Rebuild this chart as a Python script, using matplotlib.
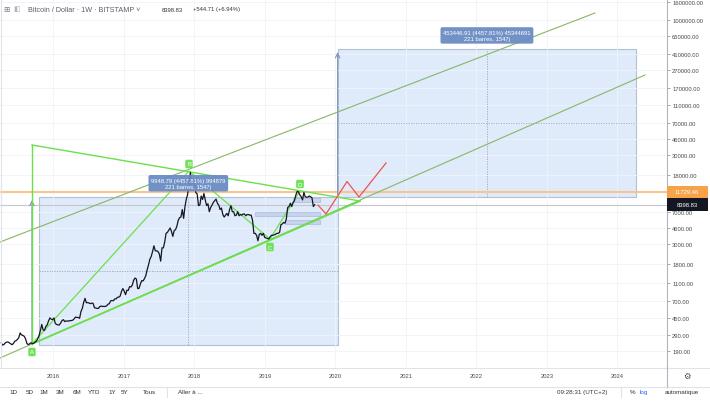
import numpy as np
import matplotlib.pyplot as plt
from matplotlib.patches import Rectangle
from matplotlib.lines import Line2D
from matplotlib.ticker import FuncFormatter, NullLocator

plt.rcParams['font.family'] = ['Liberation Sans', 'DejaVu Sans']

# weekly closes BTC/USD (Bitstamp), from april 2015
closes = [
    236, 223, 226, 236, 240, 242, 236, 230, 225, 232, 246, 250, 258,
    270, 305, 290, 286, 280, 262, 232, 226, 230, 237, 231, 234, 240,
    247, 262, 285, 325, 380, 330, 325, 360, 375, 415, 450, 435, 430,
    # 2016
    450, 390, 380, 375, 375, 395, 420, 430, 410, 415, 415, 415, 420,
    420, 425, 440, 460, 455, 455, 445, 530, 575, 670, 745, 665, 670,
    660, 650, 660, 655, 585, 580, 575, 575, 605, 610, 605, 605, 605,
    615, 640, 650, 700, 705, 700, 735, 735, 765, 770, 790, 890, 960,
    # 2017
    900, 820, 920, 915, 1010, 1000, 1050, 1190, 1260, 1230, 960, 965, 1080,
    1180, 1170, 1240, 1340, 1560, 1770, 2050, 2200, 2500, 2900, 2550, 2550,
    2500, 2350, 1950, 2750, 2750, 3200, 4000, 4100, 4350, 4600, 4200, 3700, 4300,
    4400, 4800, 5600, 6000, 6100, 7400, 5900, 8000, 9700, 11000, 15000, 19300, 14000,
    # 2018
    16500, 14000, 11500, 11100, 8200, 8300, 10500, 9600, 11200, 9500, 8200, 8600,
    7000, 7800, 8300, 8900, 9300, 9700, 8700, 8300, 7400, 7700, 6500, 6100, 6400,
    6700, 6300, 7400, 8200, 7000, 7000, 6300, 6400, 7000, 6300, 6500, 6400, 6600,
    6600, 6300, 6500, 6500, 6400, 6400, 5600, 4000, 4000, 3800, 3300, 3900, 4000, 3800,
    # 2019
    4000, 3600, 3550, 3500, 3450, 3650, 3800, 3800, 3850, 3900, 4000, 4000, 4100,
    5000, 5100, 5300, 5200, 5800, 7800, 8000, 8700, 8000, 8800, 9300, 10700, 11800,
    11700, 10800, 10300, 9500, 11500, 10300, 10200, 10200, 10500, 10300, 10000, 8000,
    8398.83,
]
first_week = 2015.26
weeks = first_week + np.arange(len(closes)) * 7 / 365.25

last_price = 8398.83
resistance = 11729.46

# ABCD pattern
abcd_x = [2015.696, 2017.923, 2019.072, 2019.498]
abcd_y = [229.3, 20040, 3456, 11950]
abcd_lbl = ['A', 'B', 'C', 'D']
abcd_off = [-8, 7, -8, 7]

# triangle
tri_x = [2015.696, 2015.696, 2020.349]
tri_y = [229.3, 39250, 9230]

# channel lines
chan_lo_x = [2015.243, 2024.391]
chan_lo_y = [159.6, 239500]
chan_hi_x = [2015.243, 2023.682]
chan_hi_y = [3200, 1189000]

# date & price ranges
range_start = 2015.796
range_days = 1547
range_lo = 223.18
range_hi = range_lo + 9948.79
proj_hi = range_hi + 453446.91

# small blue zones
zone_x0 = [2019.399, 2018.860, 2019.286]
zone_x1 = 2019.782
zone_lo = [8994, 6265, 5095]
zone_hi = [9975, 6947, 5649]

# red projection
red_x = [2019.753, 2019.867, 2020.165, 2020.335, 2020.718]
red_y = [8300, 6597, 15280, 10235, 24640]

price_ticks = [190, 290, 450, 700, 1100, 1800, 3000, 4600, 7000, 18000, 30000,
               46000, 70000, 110000, 170000, 270000, 410000, 650000, 1000000, 1600000]
years = list(range(2016, 2025))

W, H = 710, 402
fig = plt.figure(figsize=(7.1, 4.02), dpi=100)
ax = fig.add_axes([0, 34 / H, 667 / W, 368 / H])
ax.set_yscale('log')
ax.set_xlim(2015.2426, 2024.7035)
ax.set_ylim(126.5, 1.707e6)

ax.set_yticks(price_ticks)
ax.yaxis.set_minor_locator(NullLocator())
ax.yaxis.set_major_formatter(FuncFormatter(lambda v, p: f"{v:.2f}"))
ax.yaxis.tick_right()
ax.tick_params(axis='y', length=2.2, width=0.6, color='#9598a1', pad=1.5,
               labelsize=4.2, labelcolor='#4a4a4a')
ax.set_xticks(years)
ax.set_xticklabels([str(y) for y in years])
ax.tick_params(axis='x', length=0, pad=4.5, labelsize=4.2, labelcolor='#4a4a4a')
ax.grid(True, color='#f0f3fa', lw=0.6)
for s in ['top', 'left', 'bottom']:
    ax.spines[s].set_visible(False)
ax.spines['right'].set_color('#b2b5be')
ax.spines['right'].set_linewidth(0.8)

dur = range_days / 365.25
rng_color = '#dfeafa'
rng_edge = '#b3bfd3'
boxes = [(range_start, range_lo, range_hi), (range_start + dur, range_hi, proj_hi)]
for x0, lo, hi in boxes:
    ax.add_patch(Rectangle((x0, lo), dur, hi - lo, fc=rng_color, ec=rng_edge, lw=0.8, zorder=1))
    mx = x0 + dur / 2
    my = np.sqrt(lo * hi)
    ax.plot([mx, mx], [lo, hi], color='#9aa5b8', lw=0.6, ls=(0, (1.5, 1.5)), zorder=2)
    ax.plot([x0, x0 + dur], [my, my], color='#9aa5b8', lw=0.6, ls=(0, (1.5, 1.5)), zorder=2)

ax.annotate(f"{range_hi - range_lo:.2f} (4457.81%) 994879\n221 barres, 1547j",
            xy=(range_start + dur / 2, range_hi), xytext=(0, 14), textcoords='offset pixels',
            ha='center', va='center', fontsize=4.2, color='white', linespacing=1.3, zorder=8,
            bbox=dict(boxstyle='round,pad=0.45,rounding_size=0.3', fc='#6a8cc4', ec='none', alpha=0.95))
ax.annotate(f"{proj_hi - range_hi:.2f} (4457.81%) 45344691\n221 barres, 1547j",
            xy=(range_start + 1.5 * dur, proj_hi), xytext=(0, 14), textcoords='offset pixels',
            ha='center', va='center', fontsize=4.2, color='white', linespacing=1.3, zorder=8,
            bbox=dict(boxstyle='round,pad=0.45,rounding_size=0.3', fc='#6a8cc4', ec='none', alpha=0.95))

# price range arrows
for x, lo, hi in [(abcd_x[0], range_lo, range_hi), (range_start + dur, range_hi, proj_hi)]:
    ax.annotate('', xy=(x, hi), xytext=(x, lo),
                arrowprops=dict(arrowstyle='->', color='#7d93b8', lw=0.8, mutation_scale=8), zorder=3)

for x0, lo, hi in zip(zone_x0, zone_lo, zone_hi):
    ax.add_patch(Rectangle((x0, lo), zone_x1 - x0, hi - lo, fc='#c6d3ea', ec='#a9bbdc', lw=0.5, zorder=2))

# horizontal levels
ax.axhline(resistance, color='#f7c690', lw=1.5, zorder=2)
ax.axhline(last_price, color='#c4c7ce', lw=0.8, zorder=2)

# channel and pattern lines
olive = '#86b865'
lime = '#6be04c'
ax.plot(chan_lo_x, chan_lo_y, color=olive, lw=0.8, zorder=3)
ax.plot(chan_hi_x, chan_hi_y, color=olive, lw=0.8, zorder=3)
ax.plot([abcd_x[0], tri_x[2]], [abcd_y[0], tri_y[2]], color=lime, lw=1.3, zorder=4)
ax.plot(tri_x[:2], tri_y[:2], color=lime, lw=1.0, zorder=4)
ax.plot(tri_x[1:], tri_y[1:], color=lime, lw=1.0, zorder=4)
ax.plot(abcd_x, abcd_y, color=lime, lw=0.9, zorder=4)

ax.plot(red_x, red_y, color='#ef5350', lw=0.9, zorder=5)
ax.plot(weeks, closes, color='#131722', lw=0.9, zorder=6)

for x, y, t, off in zip(abcd_x, abcd_y, abcd_lbl, abcd_off):
    ax.annotate(t, xy=(x, y), xytext=(0, off), textcoords='offset pixels', ha='center', va='center',
                fontsize=4.2, color='white', zorder=9,
                bbox=dict(boxstyle='round,pad=0.3,rounding_size=0.25', fc='#72e05a', ec='none'))

# right scale labels for levels
def fig_y(price):
    return fig.transFigure.inverted().transform(ax.transData.transform((2020, price)))[1]

for val, col in [(resistance, '#f6a34a'), (last_price, '#131722')]:
    yf = fig_y(val)
    fig.add_artist(Rectangle((667 / W, yf - 6.2 / H), 41 / W, 12.4 / H, transform=fig.transFigure,
                             fc=col, ec='none', zorder=10))
    fig.text(687 / W, yf, f"{val:.2f}", ha='center', va='center', fontsize=4.2, color='white', zorder=11)

# frame lines
fig.add_artist(Line2D([0, 1], [1 - 368.5 / H, 1 - 368.5 / H], color='#e0e3eb', lw=0.8))
fig.add_artist(Line2D([0, 1], [1 - 388 / H, 1 - 388 / H], color='#e0e3eb', lw=0.8))
fig.add_artist(Line2D([667 / W, 667 / W], [1 - 388 / H, 1 - 368 / H], color='#b2b5be', lw=0.8))
fig.add_artist(Line2D([1.5 / W, 1.5 / W], [1 - 368 / H, 1], color='#e0e3eb', lw=0.8))
fig.text(687 / W, 1 - 377 / H, '\u2699', ha='center', va='center', fontsize=6, color='#4a4a4a')

# header
hy = 1 - 10 / H
fig.text(3 / W, hy, '\u229e', ha='left', va='center', fontsize=5.5, color='#787b86')
fig.text(13 / W, hy, '\u25e7', ha='left', va='center', fontsize=5, color='#b2b5be')
fig.text(28 / W, hy, 'Bitcoin / Dollar \u00b7 1W \u00b7 BITSTAMP \u02c5', ha='left', va='center',
         fontsize=5.2, color='#5d606b')
fig.text(162 / W, hy, '8398.83', ha='left', va='center', fontsize=4.2, color='#333333')
fig.text(193 / W, hy, '+544.71 (+6.94%)', ha='left', va='center', fontsize=4.2, color='#333333')

# bottom toolbar
by = 1 - 392.5 / H
for t, x in [('1D', 13.6), ('5D', 29.4), ('1M', 44), ('3M', 60.2), ('6M', 77), ('YTD', 94.2),
             ('1Y', 111.9), ('5Y', 124.5), ('Tous', 149.5), ('Aller \u00e0 ...', 190),
             ('09:28:31 (UTC+2)', 582), ('%', 632.7), ('automatique', 681.6)]:
    fig.text(x / W, by, t, ha='center', va='center', fontsize=4.5, color='#333333')
fig.text(644 / W, by, 'log', ha='center', va='center', fontsize=4.5, color='#2962ff')
fig.add_artist(Line2D([166.7 / W, 166.7 / W], [by - 5 / H, by + 5 / H], color='#e0e3eb', lw=0.8))
fig.add_artist(Line2D([621.4 / W, 621.4 / W], [by - 5 / H, by + 5 / H], color='#e0e3eb', lw=0.8))

fig.savefig('out.png', dpi=100, facecolor='white')
